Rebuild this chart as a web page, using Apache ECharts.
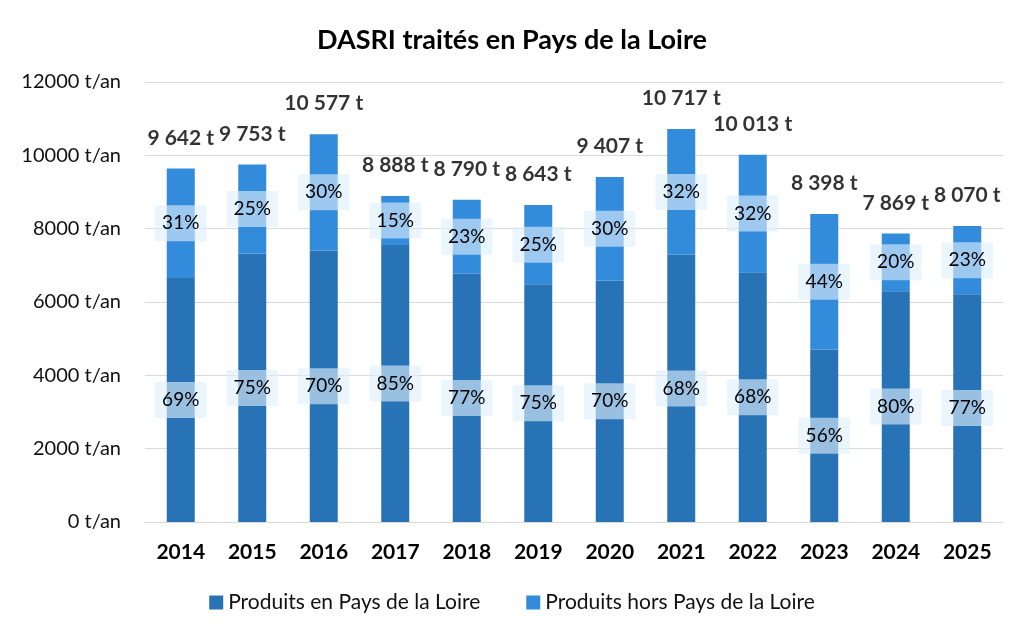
<!DOCTYPE html>
<html>
<head>
<meta charset="utf-8">
<script src="https://cdn.jsdelivr.net/npm/echarts@6/dist/echarts.min.js"></script>
<style>
  html, body { margin: 0; padding: 0; background: #fff; }
  #chart { width: 1024px; height: 640px; }
</style>
</head>
<body>
<div id="chart"></div>
<script>
// années
var years = ['2014', '2015', '2016', '2017', '2018', '2019', '2020', '2021', '2022', '2023', '2024', '2025'];
// tonnage total
var totals = [9642, 9753, 10577, 8888, 8790, 8643, 9407, 10717, 10013, 8398, 7869, 8070];
// produits en Pays de la Loire (t)
var inRegion = [6653, 7315, 7404, 7555, 6768, 6482, 6585, 7288, 6809, 4703, 6295, 6214];
// produits hors Pays de la Loire (t)
var outRegion = [2989, 2438, 3173, 1333, 2022, 2161, 2822, 3429, 3204, 3695, 1574, 1856];
// parts affichées
var pctIn = ['69%', '75%', '70%', '85%', '77%', '75%', '70%', '68%', '68%', '56%', '80%', '77%'];
var pctOut = ['31%', '25%', '30%', '15%', '23%', '25%', '30%', '32%', '32%', '44%', '20%', '23%'];
// graduations
var yTicks = [0, 2000, 4000, 6000, 8000, 10000, 12000];

var FONT = 'Lato';

function fmtTonnes(v) {
    return String(v).replace(/\B(?=(\d{3})+(?!\d))/g, ' ') + ' t';
}

var pctLabel = {
    show: true,
    position: 'inside',
    fontFamily: FONT,
    fontSize: 19,
    color: '#000',
    backgroundColor: 'rgba(222,239,252,0.62)',
    padding: [9, 7, 8, 7]
};

var chart = echarts.init(document.getElementById('chart'));

var option = {
    backgroundColor: '#fff',
    animation: false,
    title: {
        text: 'DASRI traités en Pays de la Loire',
        left: 'center',
        top: 22,
        textStyle: { fontFamily: FONT, fontWeight: 'bold', fontSize: 27, color: '#000' }
    },
    legend: {
        bottom: 22,
        left: 'center',
        itemWidth: 14,
        itemHeight: 14,
        itemGap: 46,
        icon: 'rect',
        textStyle: { fontFamily: FONT, fontSize: 21, color: '#111' },
        data: ['Produits en Pays de la Loire', 'Produits hors Pays de la Loire']
    },
    grid: {
        left: 145,
        right: 21,
        top: 82,
        bottom: 118,
        containLabel: false
    },
    xAxis: {
        type: 'category',
        data: years,
        axisLine: { show: true, lineStyle: { color: '#d9d9d9' } },
        axisTick: { show: false },
        axisLabel: { fontFamily: FONT, fontWeight: 'bold', fontSize: 21, color: '#000', margin: 20 }
    },
    yAxis: {
        type: 'value',
        min: yTicks[0],
        max: yTicks[yTicks.length - 1],
        interval: 2000,
        axisLine: { show: false },
        axisTick: { show: false },
        splitLine: { lineStyle: { color: '#d9d9d9', width: 1 } },
        axisLabel: {
            fontFamily: FONT, fontSize: 20, color: '#111', margin: 24,
            formatter: function (v) { return v + ' t/an'; }
        }
    },
    series: [
        {
            name: 'Produits en Pays de la Loire',
            type: 'bar',
            stack: 'total',
            barWidth: 28,
            itemStyle: { color: '#2873b6' },
            label: Object.assign({}, pctLabel, {
                formatter: function (p) { return pctIn[p.dataIndex]; }
            }),
            data: inRegion
        },
        {
            name: 'Produits hors Pays de la Loire',
            type: 'bar',
            stack: 'total',
            barWidth: 28,
            itemStyle: { color: '#338bdc' },
            label: Object.assign({}, pctLabel, {
                formatter: function (p) { return pctOut[p.dataIndex]; }
            }),
            data: outRegion
        },
        {
            name: 'Total',
            type: 'scatter',
            symbolSize: 0,
            silent: true,
            label: {
                show: true,
                position: 'top',
                distance: 20,
                fontFamily: FONT,
                fontWeight: 'bold',
                fontSize: 21,
                color: '#000',
                formatter: function (p) { return fmtTonnes(totals[p.dataIndex]); }
            },
            data: totals
        }
    ]
};

chart.setOption(option);
</script>
</body>
</html>
